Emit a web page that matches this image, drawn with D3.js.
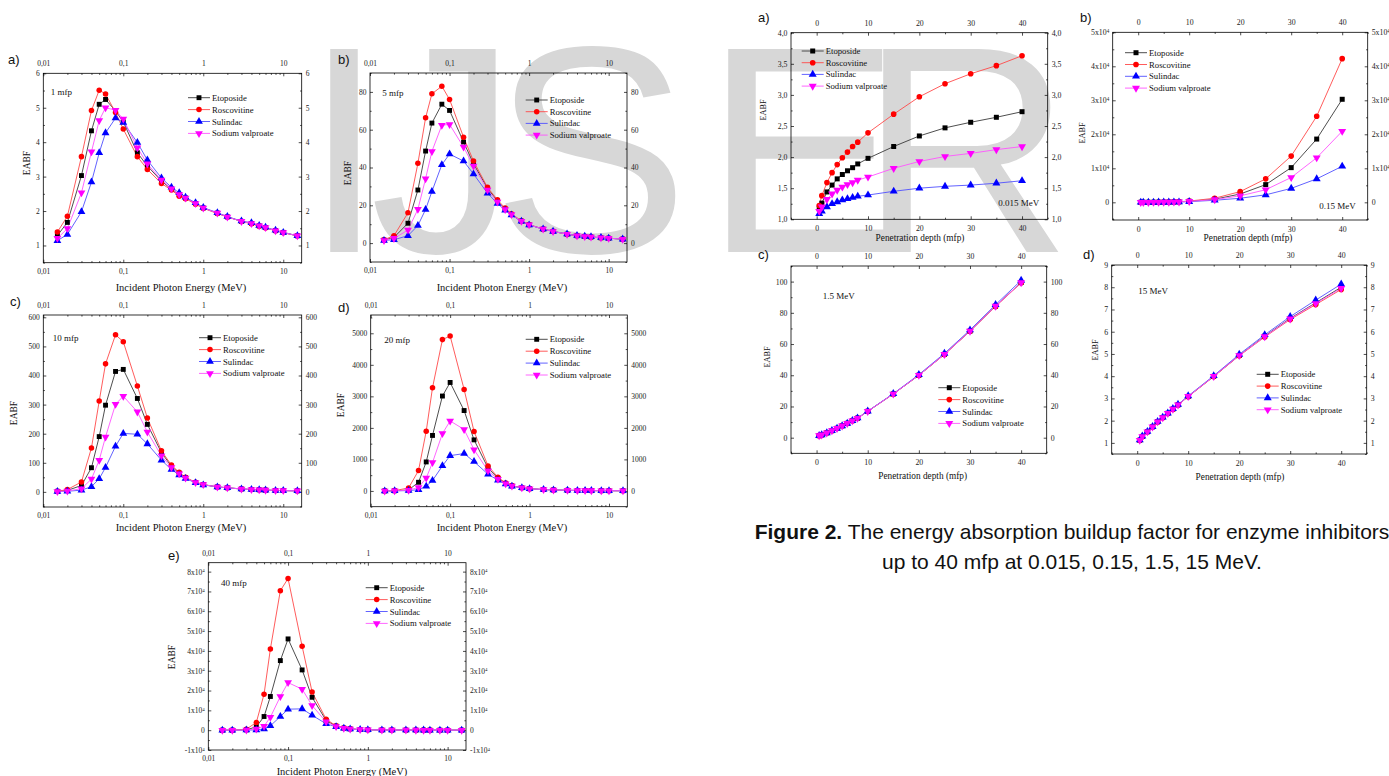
<!DOCTYPE html>
<head>
  <meta charset="utf-8">
  <script src="https://cdn.jsdelivr.net/npm/d3@7"></script>
  <style>
    body { margin:0; background:#fff; }
  </style>
</head>

<body>
  <script>
    var width = 1389,
        height = 776;

    // x values
    var energies = [0.015,0.02,0.03,0.04,0.05,0.06,0.08,0.1,0.15,0.2,0.3,0.4,0.5,0.6,0.8,1,1.5,2,3,4,5,6,8,10,15];
    var depths = [0.5,1,2,3,4,5,6,7,8,10,15,20,25,30,35,40];
    var names = ["Etoposide","Roscovitine","Sulindac","Sodium valproate"];

    // EABF vs energy, 1 mfp
    var eto1 = [1.29,1.67,3.03,4.33,5.10,5.24,4.91,4.59,3.69,3.31,2.87,2.64,2.48,2.38,2.22,2.09,1.94,1.83,1.70,1.64,1.57,1.52,1.43,1.38,1.28];
    var ros1 = [1.39,1.85,3.58,4.92,5.51,5.40,4.86,4.38,3.58,3.21,2.80,2.61,2.43,2.36,2.20,2.08,1.93,1.83,1.70,1.63,1.56,1.51,1.43,1.37,1.28];
    var sul1 = [1.14,1.32,1.98,2.84,3.69,4.27,4.70,4.57,3.99,3.48,2.96,2.69,2.53,2.40,2.24,2.10,1.95,1.84,1.71,1.66,1.58,1.53,1.44,1.38,1.28];
    var val1 = [1.21,1.49,2.53,3.72,4.63,5.00,4.93,4.67,3.84,3.37,2.90,2.65,2.48,2.38,2.22,2.09,1.94,1.83,1.70,1.64,1.57,1.52,1.43,1.38,1.28];
    // 5 mfp
    var eto5 = [1.6,3.0,10.5,28.1,48.7,63.5,73.5,70.2,53.5,42.0,29.0,22.3,17.9,15.1,11.6,9.7,7.4,6.2,4.7,3.9,3.5,3.2,2.8,2.6,2.1];
    var ros5 = [1.8,3.9,16.0,42.2,66.3,79.0,83.0,76.0,56.0,43.4,29.5,22.9,18.5,15.5,11.8,9.8,7.4,6.2,4.7,3.9,3.5,3.2,2.8,2.6,2.1];
    var sul5 = [1.4,1.8,3.9,9.3,17.8,27.3,41.5,47.1,43.4,36.6,26.4,20.9,17.4,14.9,11.5,9.6,7.4,6.2,4.8,4.0,3.6,3.3,2.9,2.6,2.1];
    var val5 = [1.4,2.5,6.9,17.9,34.1,48.5,62.4,62.8,50.8,40.8,28.1,21.8,17.8,15.1,11.6,9.7,7.4,6.2,4.7,3.9,3.5,3.2,2.8,2.6,2.1];
    // 10 mfp
    var eto10 = [2,5,22,83,190,298,414,421,321,232,135,88,64,49,32,25,17,14,10,8,7,6,5,4.5,3.5];
    var ros10 = [2,8,34,151,312,440,540,516,364,254,141,92,67,50,33,25,17,14,10,8,7,6,5,4.5,3.5];
    var sul10 = [1,2,6,18,45,84,157,201,198,165,109,77,58,46,31,24,17,14,10,8,7,6,5,4.5,3.5];
    var val10 = [1,3,11,44,109,189,301,329,275,206,124,84,62,48,32,25,17,14,10,8,7,6,5,4.5,3.5];
    // 20 mfp
    var eto20 = [1,5,30,275,920,1760,3010,3440,2550,1620,730,400,240,160,100,70,45,32,20,15,12,10,8,7,6];
    var ros20 = [1,10,95,646,1896,3273,4799,4915,3220,1886,794,434,254,170,100,70,45,32,20,15,12,10,8,7,6];
    var sul20 = [1,3,10,40,150,330,795,1120,1185,930,530,340,220,150,100,70,45,32,20,15,12,10,8,7,6];
    var val20 = [1,4,20,110,410,900,1820,2220,1950,1310,640,370,230,155,100,70,45,32,20,15,12,10,8,7,6];
    // 40 mfp
    var eto40 = [2,10,150,1700,6900,17000,35100,46050,30400,16600,4900,2000,1000,650,300,200,100,70,40,30,25,22,20,18,15];
    var ros40 = [2,15,500,3900,18150,41000,70400,76500,42350,19300,5550,2200,1200,700,300,200,100,70,40,30,25,22,20,18,15];
    var sul40 = [1,3,30,150,600,2200,6900,10600,10750,7550,3200,1700,1000,600,300,200,100,70,40,30,25,22,20,18,15];
    var val40 = [1,5,80,600,2000,6550,17000,24000,20700,12450,4200,1850,1000,600,300,200,100,70,40,30,25,22,20,18,15];

    // EABF vs depth, 0.015 MeV
    var etoA = [1.18,1.26,1.44,1.55,1.65,1.72,1.78,1.83,1.89,1.98,2.17,2.34,2.47,2.56,2.64,2.73];
    var rosA = [1.22,1.38,1.59,1.75,1.88,1.99,2.08,2.17,2.24,2.39,2.69,2.97,3.18,3.34,3.47,3.63];
    var sulA = [1.09,1.13,1.20,1.25,1.28,1.31,1.33,1.35,1.37,1.39,1.45,1.50,1.53,1.55,1.58,1.62];
    var valA = [1.13,1.20,1.32,1.41,1.47,1.52,1.56,1.59,1.63,1.68,1.82,1.93,2.01,2.06,2.12,2.17];
    // 0.15 MeV
    var etoB = [2.2,3.69,10,20,35,53.5,76,109,156,321,900,2450,5200,10200,18600,30300];
    var rosB = [2.1,3.58,9.5,20,36,56,82,120,175,364,1200,3150,6900,13600,25300,42250];
    var sulB = [2.3,3.99,10,18,29,43.4,58,77,100,198,600,1200,2200,4100,6900,10600];
    var valB = [2.2,3.84,10,20,33,50.8,70,97,130,275,800,1900,3700,7300,13100,20900];
    // 1.5 MeV
    var etoC = [1.3,1.8,3.1,4.5,6.0,7.6,9.2,10.9,12.5,16.9,28.0,40.0,53.4,68.3,84.3,99.4];
    var rosC = [1.3,1.8,3.1,4.5,6.0,7.6,9.2,10.9,12.5,16.9,28.0,40.0,53.3,68.2,84.1,99.2];
    var sulC = [1.3,1.8,3.1,4.5,6.0,7.6,9.2,10.9,12.6,17.0,28.2,40.4,54.0,69.0,85.2,100.8];
    var valC = [1.3,1.8,3.1,4.5,6.0,7.6,9.2,10.9,12.5,16.9,28.0,40.0,53.4,68.3,84.3,99.4];
    // 15 MeV
    var etoD = [1.12,1.29,1.50,1.72,1.95,2.14,2.33,2.52,2.71,3.09,3.99,4.93,5.80,6.60,7.30,8.00];
    var rosD = [1.12,1.28,1.50,1.72,1.94,2.13,2.32,2.51,2.70,3.08,3.98,4.92,5.76,6.55,7.22,7.90];
    var sulD = [1.13,1.30,1.51,1.73,1.96,2.15,2.34,2.54,2.73,3.11,4.02,4.98,5.86,6.68,7.42,8.14];
    var valD = [1.12,1.29,1.50,1.72,1.95,2.14,2.33,2.52,2.71,3.09,3.99,4.93,5.78,6.58,7.27,7.95];

    var colors = ["#000000","#ff0000","#0000ff","#ff00ff"];
    var lineColors = ["#3a3a3a","#ff4a4a","#5050ff","#ff55ff"];
    var serif = "'Liberation Serif', 'Times New Roman', serif";
    var sans = "'Liberation Sans', Arial, sans-serif";

    var svg = d3.select("body").append("svg")
      .attr("width", width)
      .attr("height", height)

    // watermark behind everything
    var wm = svg.append("text")
      .attr("y", 252)
      .attr("font-family", sans)
      .attr("font-size", 295)
      .attr("fill", "#d7d7d7");
    var wmX = [303, 370, 492, 704, 859];
    "IJSER".split("").forEach(function(c, i) {
      wm.append("tspan").attr("x", wmX[i]).text(c);
    });

    var logMinor = [];
    [0.01, 0.1, 1, 10].forEach(function(b) {
      for (var k = 2; k <= 9; k++) logMinor.push(b * k);
    });

    var comma = function(d) { return String(d).replace(".", ","); };

    function sci(sel) {
      sel.selectAll("text").each(function(d) {
        if (d === 0) return;
        var t = d3.select(this);
        t.text(Math.round(d / 1e4) + "x10");
        t.append("tspan").attr("dy", "-0.45em").attr("font-size", "0.65em").text("4");
      });
    }

    function addAxis(g, axis, tr, vals, fmt, len, pad, fs) {
      var a = g.append("g")
        .attr("transform", tr)
        .call(axis.tickValues(vals).tickSize(-len).tickSizeOuter(0).tickPadding(pad).tickFormat(fmt || ""));
      a.select(".domain").remove();
      a.attr("font-family", serif).attr("font-size", fs);
      a.selectAll("line").attr("stroke", "#000").attr("stroke-width", 0.7);
      a.selectAll("text").attr("fill", "#222");
      return a;
    }

    function panel(p) {
      var x = p.log ? d3.scaleLog() : d3.scaleLinear();
      x.domain(p.xd).range([p.x0, p.x1]);
      var y = d3.scaleLinear().domain(p.yd).range([p.y1, p.y0]);
      var g = svg.append("g");
      var fs = p.fs;

      g.append("rect")
        .attr("x", p.x0).attr("y", p.y0)
        .attr("width", p.x1 - p.x0).attr("height", p.y1 - p.y0)
        .attr("fill", "none").attr("stroke", "#000").attr("stroke-width", 0.8);

      var xMaj = p.log ? [0.01, 0.1, 1, 10] : [0, 10, 20, 30, 40];
      var xMin = p.log ? logMinor.filter(function(v) { return v < p.xd[1]; }) : [-5, 5, 15, 25, 35, 45];
      var xFmt = p.log ? comma : d3.format("d");
      var yMin = d3.range(Math.ceil(p.yd[0] / (p.ys / 2)) * (p.ys / 2), p.yd[1] + 1e-9, p.ys / 2)
        .filter(function(v) { return p.yt.indexOf(v) < 0; });

      // bottom and top
      addAxis(g, d3.axisBottom(x), "translate(0," + p.y1 + ")", xMaj, xFmt, 3, 6, fs);
      addAxis(g, d3.axisBottom(x), "translate(0," + p.y1 + ")", xMin, null, 1.6, 0, fs);
      addAxis(g, d3.axisTop(x), "translate(0," + p.y0 + ")", xMaj, xFmt, 3, 7, fs);
      addAxis(g, d3.axisTop(x), "translate(0," + p.y0 + ")", xMin, null, 1.6, 0, fs);
      // left and right
      var la = addAxis(g, d3.axisLeft(y), "translate(" + p.x0 + ",0)", p.yt, p.yf, 3, 3.5, fs);
      addAxis(g, d3.axisLeft(y), "translate(" + p.x0 + ",0)", yMin, null, 1.6, 0, fs);
      var ra = addAxis(g, d3.axisRight(y), "translate(" + p.x1 + ",0)", p.yt, p.yf, 3, 4, fs);
      addAxis(g, d3.axisRight(y), "translate(" + p.x1 + ",0)", yMin, null, 1.6, 0, fs);
      if (p.sci) { sci(la); sci(ra); }

      // data
      var xs = p.log ? energies : depths;
      p.series.forEach(function(vals, i) {
        var line = d3.line()
          .x(function(d, j) { return x(xs[j]); })
          .y(function(d) { return y(d); });
        g.append("path")
          .attr("d", line(vals))
          .attr("fill", "none")
          .attr("stroke", lineColors[i])
          .attr("stroke-width", 0.9);
      });
      p.series.forEach(function(vals, i) {
        g.selectAll(null)
          .data(vals)
          .enter()
          .append("path")
          .attr("d", marker(i, p.ms))
          .attr("transform", function(d, j) {
            return "translate(" + x(xs[j]) + "," + y(d) + ")" + (i === 3 ? " rotate(180)" : "");
          })
          .attr("fill", colors[i]);
      });

      // legend
      names.forEach(function(n, i) {
        var ly = p.leg[1] + i * p.leg[2];
        g.append("line")
          .attr("x1", p.leg[0]).attr("x2", p.leg[0] + 22)
          .attr("y1", ly).attr("y2", ly)
          .attr("stroke", lineColors[i]).attr("stroke-width", 0.9);
        g.append("path")
          .attr("d", marker(i, p.ms))
          .attr("transform", "translate(" + (p.leg[0] + 11) + "," + ly + ")" + (i === 3 ? " rotate(180)" : ""))
          .attr("fill", colors[i]);
        g.append("text")
          .attr("x", p.leg[0] + 24).attr("y", ly + 3)
          .attr("font-family", serif).attr("font-size", 8.7)
          .attr("fill", "#111")
          .text(n);
      });

      g.append("text")
        .attr("x", p.note[1]).attr("y", p.note[2] + 3)
        .attr("font-family", serif).attr("font-size", 9)
        .attr("fill", "#111")
        .text(p.note[0]);

      g.append("text")
        .attr("x", p.lab[1]).attr("y", p.lab[2] + 4.5)
        .attr("font-family", sans).attr("font-size", 13)
        .attr("fill", "#111")
        .text(p.lab[0]);

      g.append("text")
        .attr("transform", "translate(" + (p.yt2[0] + 3) + "," + p.yt2[1] + ") rotate(-90)")
        .attr("text-anchor", "middle")
        .attr("font-family", serif).attr("font-size", p.tfs - 1)
        .attr("fill", "#111")
        .text("EABF");

      g.append("text")
        .attr("x", p.xt[0]).attr("y", p.xt[1] + 3.5)
        .attr("text-anchor", "middle")
        .attr("font-family", serif).attr("font-size", p.tfs)
        .attr("fill", "#111")
        .text(p.log ? "Incident Photon Energy (MeV)" : "Penetration depth (mfp)");
    }

    function marker(i, s) {
      var types = [d3.symbolSquare, d3.symbolCircle, d3.symbolTriangle, d3.symbolTriangle];
      var sizes = [s, s, s * 1.1, s * 1.1];
      return d3.symbol().type(types[i]).size(sizes[i])();
    }

    var xE = [0.01, 17];
    var xD = [-5, 45];

    panel({ log: true, xd: xE, x0: 43.3, x1: 301.7, y0: 73.3, y1: 262.7, yd: [0.5, 6], yt: [1,2,3,4,5,6], ys: 1, yf: d3.format("d"),
      series: [eto1, ros1, sul1, val1], leg: [188, 97.7, 11.9], note: ["1 mfp", 50.7, 92.3], lab: ["a)", 8, 59],
      yt2: [27, 163], xt: [181, 287], fs: 7.5, tfs: 10.5, ms: 24 });
    panel({ log: true, xd: xE, x0: 370, x1: 627, y0: 73, y1: 262, yd: [-10, 90], yt: [0,20,40,60,80], ys: 20, yf: d3.format("d"),
      series: [eto5, ros5, sul5, val5], leg: [525.7, 100, 11.7], note: ["5 mfp", 382.3, 92.7], lab: ["b)", 338, 59],
      yt2: [348, 173], xt: [502, 287], fs: 7.5, tfs: 10.5, ms: 24 });
    panel({ log: true, xd: xE, x0: 43.3, x1: 301.7, y0: 315, y1: 507, yd: [-52, 608], yt: [0,100,200,300,400,500,600], ys: 100, yf: d3.format("d"),
      series: [eto10, ros10, sul10, val10], leg: [199, 337.7, 11.9], note: ["10 mfp", 52.7, 338], lab: ["c)", 10, 301.7],
      yt2: [14, 413], xt: [181, 527], fs: 7.5, tfs: 10.5, ms: 24 });
    panel({ log: true, xd: xE, x0: 370.7, x1: 627.3, y0: 315, y1: 506.7, yd: [-500, 5580], yt: [0,1000,2000,3000,4000,5000], ys: 1000, yf: d3.format("d"),
      series: [eto20, ros20, sul20, val20], leg: [525.7, 339.3, 11.9], note: ["20 mfp", 384.3, 340], lab: ["d)", 338, 307],
      yt2: [341, 405], xt: [502, 527], fs: 7.5, tfs: 10.5, ms: 24 });
    panel({ log: true, xd: xE, x0: 208.3, x1: 466, y0: 562.7, y1: 750, yd: [-10000, 84500], yt: d3.range(-10000, 80001, 10000), ys: 10000, yf: d3.format("d"), sci: true,
      series: [eto40, ros40, sul40, val40], leg: [365.7, 587.7, 11.9], note: ["40 mfp", 221, 582.7], lab: ["e)", 168, 555],
      yt2: [172, 657], xt: [342, 771], fs: 7.5, tfs: 10.5, ms: 24 });

    panel({ log: false, xd: xD, x0: 791, x1: 1047.7, y0: 32.7, y1: 219.3, yd: [1, 4], yt: [1,1.5,2,2.5,3,3.5,4], ys: 0.5,
      yf: function(d) { return d3.format(".1f")(d).replace(".", ","); },
      series: [etoA, rosA, sulA, valA], leg: [801.7, 51, 11.7], note: ["0.015 MeV", 998.3, 202.7], lab: ["a)", 758, 17],
      yt2: [763, 110], xt: [920, 237], fs: 7.8, tfs: 9.3, ms: 25 });
    panel({ log: false, xd: xD, x0: 1112.7, x1: 1367.7, y0: 32.3, y1: 220, yd: [-5200, 50000], yt: d3.range(0, 50001, 10000), ys: 10000, yf: d3.format("d"), sci: true,
      series: [etoB, rosB, sulB, valB], leg: [1125, 52.7, 11.8], note: ["0.15 MeV", 1319.3, 205.7], lab: ["b)", 1080, 17],
      yt2: [1082, 133], xt: [1248, 237], fs: 7.8, tfs: 9.3, ms: 25 });
    panel({ log: false, xd: xD, x0: 791, x1: 1046.7, y0: 266, y1: 453.3, yd: [-10, 110], yt: [0,20,40,60,80,100], ys: 20, yf: d3.format("d"),
      series: [etoC, rosC, sulC, valC], leg: [938.3, 387.7, 11.9], note: ["1.5 MeV", 822.7, 295.7], lab: ["c)", 758, 254],
      yt2: [767, 357], xt: [922.7, 475], fs: 7.8, tfs: 9.3, ms: 25 });
    panel({ log: false, xd: xD, x0: 1111.7, x1: 1366.7, y0: 265, y1: 454, yd: [0.5, 9], yt: [1,2,3,4,5,6,7,8,9], ys: 1, yf: d3.format("d"),
      series: [etoD, rosD, sulD, valD], leg: [1256.7, 374.3, 11.8], note: ["15 MeV", 1138.3, 290.7], lab: ["d)", 1083, 254],
      yt2: [1095, 350], xt: [1240, 476.7], fs: 7.8, tfs: 9.3, ms: 25 });

    // caption
    var cap = svg.append("text")
      .attr("x", 1072).attr("y", 539)
      .attr("text-anchor", "middle")
      .attr("font-family", sans).attr("font-size", 21)
      .attr("fill", "#111");
    cap.append("tspan").attr("font-weight", "bold").text("Figure 2.");
    cap.append("tspan").text(" The energy absorption buildup factor for enzyme inhibitors");
    svg.append("text")
      .attr("x", 1072).attr("y", 569)
      .attr("text-anchor", "middle")
      .attr("font-family", sans).attr("font-size", 21)
      .attr("fill", "#111")
      .text("up to 40 mfp at 0.015, 0.15, 1.5, 15 MeV.");
  </script>
</body>
